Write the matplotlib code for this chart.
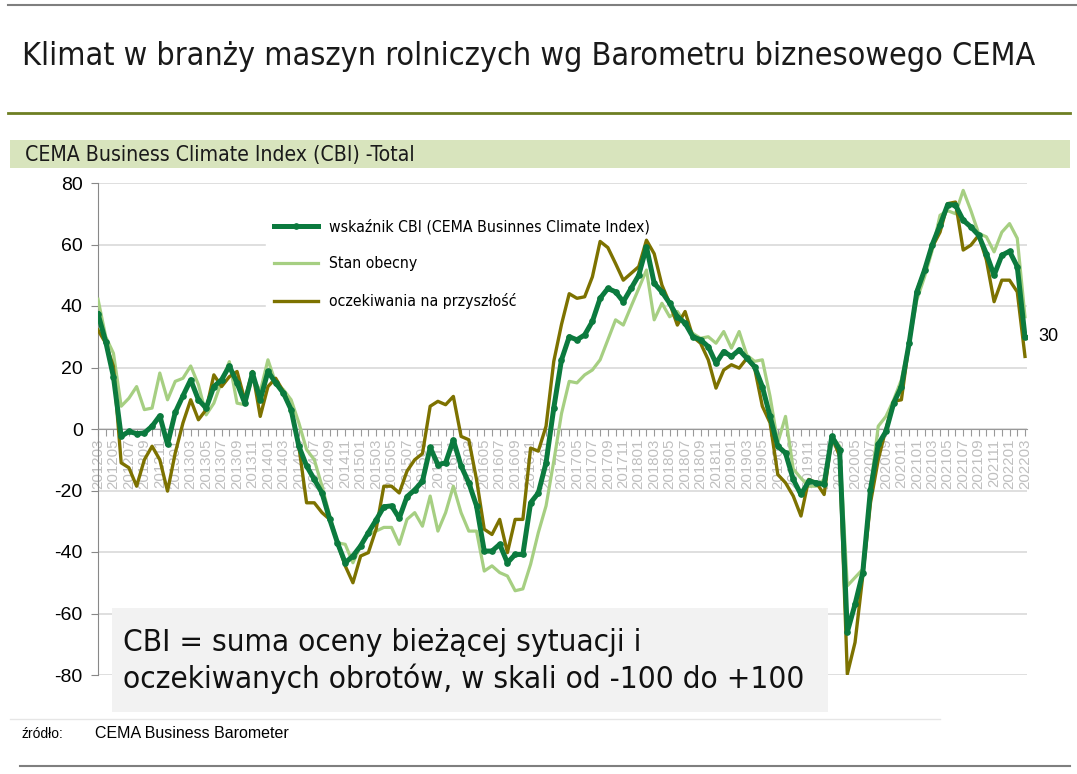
import matplotlib
matplotlib.use("Agg")
import matplotlib.pyplot as plt
from matplotlib.patches import Rectangle
from matplotlib.lines import Line2D
import pandas as pd

NARROW = ["DejaVu Sans"]
REGULAR = ["Liberation Sans", "DejaVu Sans"]

# months 2012-03 .. 2022-03
months = [p.strftime("%Y%m") for p in pd.period_range("2012-03", "2022-03", freq="M")]

# CEMA Business Climate Index (total)
cbi = [
    37.4, 28.4, 17.0, -2.4, -0.8, -1.5, -1.3, 0.9, 4.3, -5.0,
    5.4, 10.8, 16.0, 9.5, 6.8, 13.8, 16.0, 20.5, 15.0, 8.4,
    18.2, 9.5, 18.7, 15.0, 11.7, 6.3, -5.6, -12.0, -16.4, -20.8,
    -29.4, -37.0, -43.5, -41.3, -38.0, -33.7, -29.6, -25.3, -25.0, -29.0,
    -22.0, -19.8, -17.0, -6.0, -11.6, -11.0, -3.6, -12.0, -17.5, -25.0,
    -39.7, -39.7, -37.5, -43.5, -40.8, -40.8, -24.0, -20.8, -11.0, 6.8,
    22.5, 30.0, 29.0, 30.6, 35.0, 42.5, 45.7, 44.6, 41.4, 45.7,
    50.0, 59.2, 47.4, 44.6, 40.9, 36.5, 34.4, 30.0, 29.0, 26.8,
    21.4, 25.2, 23.6, 25.7, 23.0, 20.3, 13.8, 4.1, -5.6, -7.8,
    -16.4, -21.3, -17.0, -17.5, -18.0, -2.4, -6.7, -66.0, -57.0, -46.7,
    -19.7, -5.0, -0.8, 8.4, 13.8, 27.9, 44.6, 51.7, 60.0, 66.3,
    73.0, 72.8, 67.9, 65.7, 63.0, 57.0, 50.0, 56.5, 57.8, 52.8,
    30.0,
]

# Stan obecny (current situation)
current = [
    42.2, 30.0, 24.6, 7.4, 10.0, 13.8, 6.3, 6.8, 18.2, 9.5,
    15.5, 16.5, 20.5, 14.4, 4.6, 8.4, 15.5, 21.9, 8.4, 7.9,
    17.1, 12.2, 22.5, 15.0, 12.8, 9.5, 2.0, -6.7, -10.0, -18.6,
    -28.3, -37.0, -37.5, -43.5, -38.0, -34.3, -33.2, -32.0, -32.0, -37.5,
    -29.4, -27.2, -31.6, -21.8, -33.2, -27.2, -18.6, -27.2, -33.2, -33.2,
    -46.2, -44.5, -46.7, -47.8, -52.6, -52.0, -44.0, -33.7, -25.0, -10.5,
    5.0, 15.5, 15.0, 17.6, 19.2, 22.5, 29.0, 35.5, 33.8, 39.8,
    45.7, 51.7, 35.5, 40.9, 36.5, 38.2, 34.4, 31.1, 29.5, 30.0,
    27.9, 31.7, 26.3, 31.7, 24.0, 22.0, 22.5, 10.6, -4.5, 4.1,
    -13.0, -16.0, -18.6, -18.6, -16.4, -2.4, -5.6, -51.0, -48.3, -45.6,
    -19.7, 0.9, 4.1, 9.5, 16.0, 27.9, 42.0, 49.5, 58.2, 69.5,
    71.0, 70.0, 77.6, 71.0, 63.6, 62.5, 57.6, 64.0, 66.8, 62.0,
    36.5,
]

# oczekiwania na przyszlosc (expectations)
expect = [
    32.2, 27.9, 20.3, -11.0, -12.6, -18.6, -10.0, -5.6, -10.0, -20.2,
    -7.8, 2.0, 9.5, 3.0, 6.3, 17.6, 13.8, 17.0, 18.7, 9.5,
    18.7, 4.1, 13.8, 16.5, 12.2, 6.3, -5.6, -24.0, -24.0, -27.2,
    -29.4, -37.0, -44.5, -50.0, -41.3, -40.2, -32.6, -18.6, -18.6, -20.8,
    -13.7, -10.0, -8.0, 7.4, 9.0, 7.9, 10.6, -2.4, -3.5, -16.4,
    -32.6, -34.3, -29.4, -40.2, -29.4, -29.4, -6.2, -7.2, 0.9, 22.0,
    34.0, 44.0, 42.5, 43.0, 49.5, 61.0, 59.0, 53.8, 48.4, 50.6,
    52.8, 61.4, 57.0, 46.8, 40.9, 33.8, 38.2, 30.0, 27.9, 22.5,
    13.3, 19.2, 20.9, 19.8, 23.0, 19.8, 7.4, 2.0, -14.8, -17.5,
    -21.8, -28.3, -16.4, -17.5, -21.3, -2.4, -8.9, -79.7, -69.4, -47.8,
    -24.0, -10.0, 0.0, 9.0, 9.5, 28.0, 45.0, 51.7, 59.2, 64.0,
    73.3, 73.8, 58.2, 59.8, 63.0, 55.0, 41.4, 48.4, 48.4, 44.6,
    23.6,
]

C_CBI = "#0b7a3e"
C_CUR = "#a6cf82"
C_EXP = "#7d7200"
W, H = 1077, 774

fig = plt.figure(figsize=(W / 100, H / 100), dpi=100)
renderer = fig.canvas.get_renderer()


def fx(px):
    return px / W


def fy(py):
    return 1 - py / H


def fit_size(text, width_px, base=20, **kw):
    """Font size that makes text about width_px wide."""
    probe = fig.text(0, 0, text, fontsize=base, **kw)
    w = probe.get_window_extent(renderer=renderer).width
    probe.remove()
    return base * width_px / w


narrow_kw = dict(family=NARROW, stretch="condensed")

# header lines and title
fig.add_artist(Line2D([fx(8), fx(1077)], [fy(5), fy(5)], color="#7f7f7f", lw=1.5))
title = "Klimat w branży maszyn rolniczych wg Barometru biznesowego CEMA"
fig.text(fx(22), fy(57), title, fontsize=fit_size(title, 1012, **narrow_kw), **narrow_kw,
         va="center", ha="left", color="#1a1a1a")
fig.add_artist(Line2D([fx(8), fx(1070)], [fy(113), fy(113)], color="#6e7f22", lw=2))

# subtitle band
fig.add_artist(Rectangle((fx(10), fy(168)), fx(1060), 28 / H, color="#d8e4bd", lw=0))
sub = "CEMA Business Climate Index (CBI) -Total"
fig.text(fx(25), fy(155), sub, fontsize=fit_size(sub, 390, **narrow_kw), **narrow_kw,
         va="center", ha="left", color="#1a1a1a")

ax = fig.add_axes([fx(98), fy(675), fx(929), 492 / H])
for side in ("top", "right"):
    ax.spines[side].set_visible(False)
ax.spines["left"].set_color("#888888")
ax.spines["bottom"].set_position(("data", 0))
ax.spines["bottom"].set_color("#999999")

x = list(range(len(months)))
ax.plot(x, current, color=C_CUR, lw=2.3, zorder=3, label="Stan obecny")
ax.plot(x, expect, color=C_EXP, lw=2.4, zorder=3.1, label="oczekiwania na przyszłość")
ax.plot(x, cbi, color=C_CBI, lw=3.6, marker="o", ms=3.8, zorder=3.2,
        label="wskaźnik CBI (CEMA Businnes Climate Index)")

ax.set_xlim(0, 120.26)
ax.set_ylim(-80, 80)
ax.set_yticks(range(-80, 81, 20))
ax.set_yticklabels([str(v) for v in range(-80, 81, 20)], family=REGULAR, fontsize=14)
ax.yaxis.grid(True, color="#d9d9d9", lw=1.2)
ax.set_axisbelow(True)
ax.tick_params(axis="y", length=5, color="#888888", pad=6)

ax.set_xticks(x)
ax.set_xticklabels([m if i % 2 == 0 else "" for i, m in enumerate(months)],
                   rotation=90, fontsize=10.8, color="#bfbfbf", family=REGULAR)
ax.tick_params(axis="x", length=5, color="#999999", pad=2)

handles, labels = ax.get_legend_handles_labels()
order = [2, 0, 1]
leg_size = fit_size(labels[2], 320, **narrow_kw)
leg = ax.legend([handles[i] for i in order], [labels[i] for i in order],
                loc="upper left", bbox_to_anchor=(fx(258), fy(203)),
                bbox_transform=fig.transFigure, frameon=True, fancybox=False,
                edgecolor="white", facecolor="white", framealpha=1,
                prop={"family": NARROW, "stretch": "condensed", "size": leg_size},
                labelspacing=1.4, handlelength=2.8, handletextpad=0.7, borderpad=0.5)
leg.set_zorder(2.5)

ax.text(1.012, (30 + 80) / 160, "30", transform=ax.transAxes, fontsize=13,
        family=REGULAR, va="center", ha="left")

# description box
fig.add_artist(Rectangle((fx(112), fy(712)), fx(716), 104 / H, color="#f2f2f2", lw=0, zorder=6))
note2 = "oczekiwanych obrotów, w skali od -100 do +100"
fig.text(fx(123), fy(661), "CBI = suma oceny bieżącej sytuacji i\n" + note2,
         fontsize=fit_size(note2, 682, **narrow_kw), **narrow_kw, va="center", ha="left",
         color="#111111", linespacing=1.3, zorder=7)

# source and footer
fig.add_artist(Line2D([fx(10), fx(940)], [fy(719), fy(719)], color="#e6e6e6", lw=1))
fig.text(fx(22), fy(734), "źródło:", fontsize=10, family=REGULAR, va="center")
fig.text(fx(95), fy(734), "CEMA Business Barometer", fontsize=11.5, family=REGULAR, va="center")
fig.add_artist(Line2D([fx(20), fx(1070)], [fy(766), fy(766)], color="#7f7f7f", lw=1.5))

fig.savefig("out.png", dpi=100)
